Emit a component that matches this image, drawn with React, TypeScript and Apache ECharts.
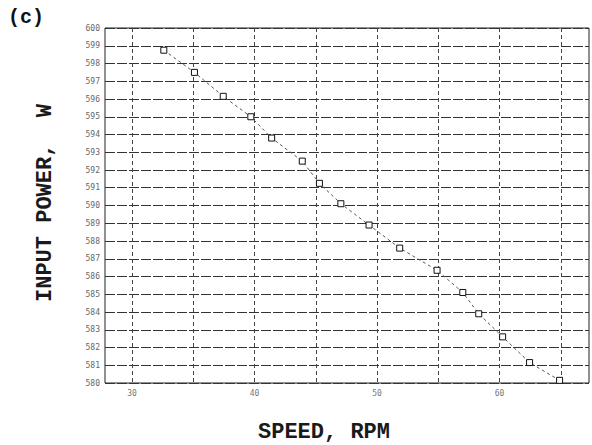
import React, { useEffect, useRef } from "react";
import * as echarts from "echarts";

const speed = [32.6, 35.1, 37.45, 39.7, 41.4, 43.9, 45.3, 47.05, 49.35, 51.85, 54.9, 57.0, 58.3, 60.25, 62.45, 64.9];
const power = [598.75, 597.5, 596.15, 595.0, 593.8, 592.5, 591.25, 590.1, 588.9, 587.6, 586.35, 585.1, 583.9, 582.6, 581.15, 580.15];
const xGridValues = [30, 35, 40, 45, 50, 55, 60, 65];
const xLabelValues = [30, 40, 50, 60];
const yMin = 580;
const yMax = 600;
const xTitle = "SPEED, RPM";
const yTitle = "INPUT POWER,  W";
const panelLabel = "(c)";

export default function App() {
  const ref = useRef<HTMLDivElement>(null);
  useEffect(() => {
    document.body.style.margin = "0";
    const chart = echarts.init(ref.current!, null, { renderer: "svg" });
    const titleFont = "bold 22px 'Liberation Mono'";
    chart.setOption({
      animation: false,
      backgroundColor: "#ffffff",
      graphic: [
        {
          type: "text",
          left: 8,
          top: 7,
          style: { text: panelLabel, font: "bold 20px 'Liberation Mono'", fill: "#111" },
        },
        {
          type: "text",
          x: 324,
          y: 432,
          style: { text: xTitle, font: titleFont, fill: "#1a1a1a", align: "center", verticalAlign: "middle" },
        },
        {
          type: "text",
          x: 45,
          y: 203,
          rotation: Math.PI / 2,
          style: { text: yTitle, font: titleFont, fill: "#1a1a1a", align: "center", verticalAlign: "middle" },
        },
      ],
      grid: {
        left: 105,
        right: 3,
        top: 28,
        bottom: 62,
        show: true,
        borderColor: "#222",
        borderWidth: 1,
        outerBoundsMode: "none",
      },
      xAxis: {
        type: "value",
        min: 27.8,
        max: 67.3,
        axisLine: { show: false },
        axisTick: { show: false, customValues: xGridValues },
        axisLabel: {
          customValues: xLabelValues,
          fontFamily: "DejaVu Sans Mono",
          fontSize: 8,
          color: "#777",
          margin: 6,
        },
        splitLine: { show: true, lineStyle: { color: "#444", width: 1, type: [4, 3] } },
      },
      yAxis: {
        type: "value",
        min: yMin,
        max: yMax,
        interval: 1,
        axisLine: { show: false },
        axisTick: { show: false },
        axisLabel: { fontFamily: "DejaVu Sans Mono", fontSize: 8, color: "#666", margin: 5 },
        splitLine: { show: true, lineStyle: { color: "#333", width: 1, type: [10, 2] } },
      },
      series: [
        {
          type: "line",
          data: speed.map((s, i) => [s, power[i]]),
          symbol: "rect",
          symbolSize: 6,
          itemStyle: { color: "#fff", borderColor: "#111", borderWidth: 1 },
          lineStyle: { color: "#555", width: 1, type: [3, 3] },
        },
      ],
    });
    return () => chart.dispose();
  }, []);
  return <div ref={ref} style={{ width: 592, height: 445 }} />;
}
